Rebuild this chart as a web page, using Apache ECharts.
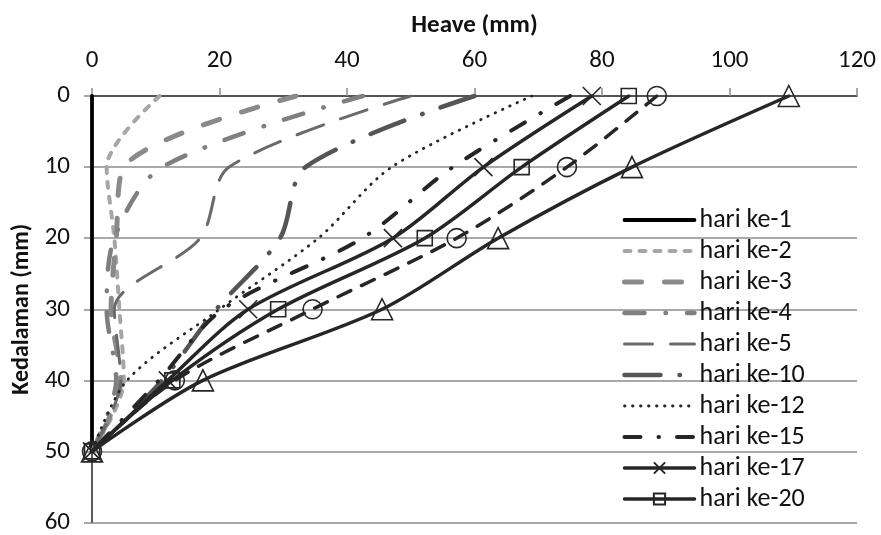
<!DOCTYPE html>
<html>
<head>
<meta charset="utf-8">
<script src="https://cdn.jsdelivr.net/npm/echarts@6/dist/echarts.min.js"></script>
<style>
  html, body { margin: 0; padding: 0; background: #fff; }
  #chart { width: 881px; height: 535px; }
</style>
</head>
<body>
<div id="chart"></div>
<script>
// Depth of each reading (mm), measured downward from the surface
const depths = [0, 10, 20, 30, 40, 50];

// Heave (mm) at each depth, one array per observation day
const hari1  = [0, 0, 0, 0, 0, 0];
const hari2  = [10.6, 2.3, 3.5, 4.3, 5.0, 0];
const hari3  = [32, 5.0, 3.8, 3.0, 4.5, 0];
const hari4  = [42.5, 11, 3.5, 2.3, 3.8, 0];
const hari5  = [50, 21.5, 17, 3.5, 4.5, 0];
const hari10 = [60, 33.5, 29.5, 19.5, 11, 0];
const hari12 = [69, 47, 35.5, 20, 5.5, 0];
const hari15 = [75, 56.6, 42.4, 20.5, 10.5, 0];
const hari17 = [78.4, 61.4, 47.2, 24.5, 11.9, 0];
const hari20 = [84.2, 67.4, 52.2, 29.2, 12.6, 0];
const hari25 = [88.6, 74.5, 57.2, 34.6, 13, 0];
const hari30 = [109.3, 84.7, 63.7, 45.5, 17.4, 0];

// Axis ticks
const heaveTicks = [0, 20, 40, 60, 80, 100, 120];
const depthTicks = [0, 10, 20, 30, 40, 50, 60];

// Names shown in the legend
const legendNames = ['hari ke-1', 'hari ke-2', 'hari ke-3', 'hari ke-4', 'hari ke-5',
  'hari ke-10', 'hari ke-12', 'hari ke-15', 'hari ke-17', 'hari ke-20'];

const FONT = 'Carlito, Lato, "Open Sans", sans-serif';
const DARK = '#262626';
const crossPath = 'path://M0,0L10,10M10,0L0,10';

function pairs(values) {
  return depths.map((d, i) => [values[i], d]);
}

// A plain line keeps an invisible symbol so its legend entry shows only the stroke
function line(name, values, color, width, dash, symbol, symbolSize) {
  const marked = !!symbol;
  return {
    name: name,
    type: 'line',
    data: pairs(values),
    smooth: 0.3,
    symbol: marked ? symbol : 'circle',
    symbolSize: marked ? symbolSize : 1,
    showSymbol: marked,
    lineStyle: { color: color, width: width, type: dash, cap: 'round', join: 'round' },
    itemStyle: marked
      ? { color: 'rgba(255,255,255,0)', borderColor: color, borderWidth: 1.6 }
      : { color: 'rgba(255,255,255,0)', borderColor: 'rgba(255,255,255,0)', borderWidth: 0 },
    emphasis: { disabled: true },
    animation: false
  };
}

const series = [
  line('hari ke-1',  hari1,  '#000000', 3.8, 'solid'),
  line('hari ke-2',  hari2,  '#a6a6a6', 4,   [6, 9]),
  line('hari ke-3',  hari3,  '#8a8a8a', 5,   [17, 23]),
  line('hari ke-4',  hari4,  '#7f7f7f', 4.5, [20, 21, 0.5, 21]),
  line('hari ke-5',  hari5,  '#6a6a6a', 3,   [28, 18]),
  line('hari ke-10', hari10, '#555555', 4.5, [36, 19, 0.5, 19]),
  line('hari ke-12', hari12, DARK,      2.8, [0.5, 7.5]),
  line('hari ke-15', hari15, DARK,      4,   [16, 18, 0.5, 18]),
  line('hari ke-17', hari17, DARK,      3.5, 'solid', crossPath, 18),
  line('hari ke-20', hari20, DARK,      3.5, 'solid', 'rect', 15),
  line('hari ke-25', hari25, DARK,      3.5, [14, 12], 'circle', 19),
  line('hari ke-30', hari30, DARK,      3.5, 'solid', 'triangle', 21)
];

const chart = echarts.init(document.getElementById('chart'), null, { renderer: 'canvas' });
chart.setOption({
  backgroundColor: '#ffffff',
  animation: false,
  textStyle: { fontFamily: FONT },
  grid: { left: 92, top: 96, right: 24, bottom: 10, containLabel: false },
  legend: {
    data: legendNames,
    orient: 'vertical',
    left: 622,
    top: 207,
    height: 328,
    padding: 0,
    itemWidth: 70,
    itemHeight: 14,
    itemGap: 5,
    selectedMode: false,
    lineStyle: { width: 'inherit' },
    textStyle: { fontFamily: FONT, fontSize: 26, color: '#111' }
  },
  xAxis: [{
    type: 'value',
    position: 'top',
    min: heaveTicks[0],
    max: heaveTicks[heaveTicks.length - 1],
    interval: heaveTicks[1] - heaveTicks[0],
    name: 'Heave (mm)',
    nameLocation: 'middle',
    nameGap: 58,
    nameTextStyle: { fontFamily: FONT, fontSize: 25, fontWeight: 'bold', color: '#111' },
    axisLine: { show: true, lineStyle: { color: '#8c8c8c', width: 1.5 } },
    axisTick: { show: true, inside: false, length: 8, lineStyle: { color: '#8c8c8c', width: 1.5 } },
    axisLabel: { fontFamily: FONT, fontSize: 25, color: '#111', margin: 23 },
    splitLine: { show: false }
  }, {
    type: 'value',
    position: 'bottom',
    min: heaveTicks[0],
    max: heaveTicks[heaveTicks.length - 1],
    axisLine: { show: true, lineStyle: { color: '#404040', width: 1.5 } },
    axisTick: { show: false },
    axisLabel: { show: false },
    splitLine: { show: false }
  }],
  yAxis: [{
    type: 'value',
    inverse: true,
    min: depthTicks[0],
    max: depthTicks[depthTicks.length - 1],
    interval: depthTicks[1] - depthTicks[0],
    name: 'Kedalaman (mm)',
    nameLocation: 'middle',
    nameGap: 55,
    nameTextStyle: { fontFamily: FONT, fontSize: 24, fontWeight: 'bold', color: '#111' },
    axisLine: { show: true, lineStyle: { color: '#8c8c8c', width: 1.5 } },
    axisTick: { show: true, inside: false, length: 8, lineStyle: { color: '#8c8c8c', width: 1.5 } },
    axisLabel: { fontFamily: FONT, fontSize: 25, color: '#111', margin: 22 },
    splitLine: { show: true, lineStyle: { color: '#8c8c8c', width: 1.5 } }
  }, {
    type: 'value',
    position: 'right',
    inverse: true,
    min: depthTicks[0],
    max: depthTicks[depthTicks.length - 1],
    axisLine: { show: true, lineStyle: { color: '#404040', width: 1.5 } },
    axisTick: { show: false },
    axisLabel: { show: false },
    splitLine: { show: false }
  }],
  series: series
});
</script>
</body>
</html>
